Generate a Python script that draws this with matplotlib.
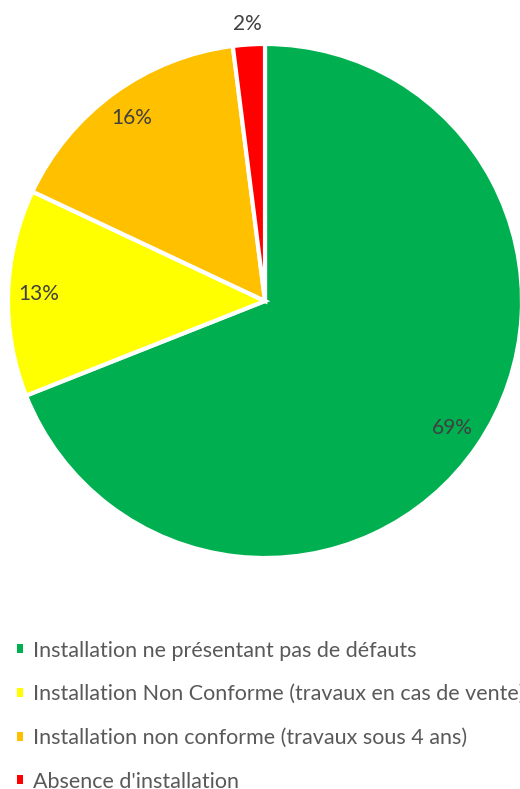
import numpy as np
import matplotlib.pyplot as plt

labels = ["Installation ne présentant pas de défauts",
          "Installation Non Conforme (travaux en cas de vente)",
          "Installation non conforme (travaux sous 4 ans)",
          "Absence d'installation"]
values = [69, 13, 16, 2]
colors = ["#00B050", "#FFFF00", "#FFC000", "#FF0000"]

plt.rcParams['font.family'] = ['Lato', 'DejaVu Sans']

W, H = 520, 789
fig = plt.figure(figsize=(W / 100, H / 100), dpi=100)
ax = fig.add_axes([0, 0, 1, 1])

cx, cy, r = 265, H - 301, 257
wedges, texts, autotexts = ax.pie(
    values, colors=colors, startangle=90, counterclock=False,
    center=(cx, cy), radius=r, frame=True,
    autopct='%d%%', pctdistance=0.88,
    wedgeprops=dict(edgecolor='white', linewidth=3),
    textprops=dict(color='#404040', fontsize=15))

# small slice label goes outside
w = wedges[3]
mid = np.deg2rad((w.theta1 + w.theta2) / 2)
autotexts[3].set_position((cx + 1.08 * r * np.cos(mid), cy + 1.08 * r * np.sin(mid)))

ax.set_xlim(0, W)
ax.set_ylim(0, H)
ax.set_aspect('equal')
ax.axis('off')

# legend runs off the right/bottom edge like the original
leg = ax.legend(wedges, labels, loc='upper left', bbox_to_anchor=(8 / W, 1 - 632 / H),
                frameon=False, fontsize=15.5, handlelength=0.28, handleheight=0.28,
                handletextpad=0.5, labelspacing=1.1, borderaxespad=0)
for t in leg.get_texts():
    t.set_color('#595959')
for h in leg.legend_handles:
    h.set_linewidth(0)

fig.savefig('out.png', dpi=100)
